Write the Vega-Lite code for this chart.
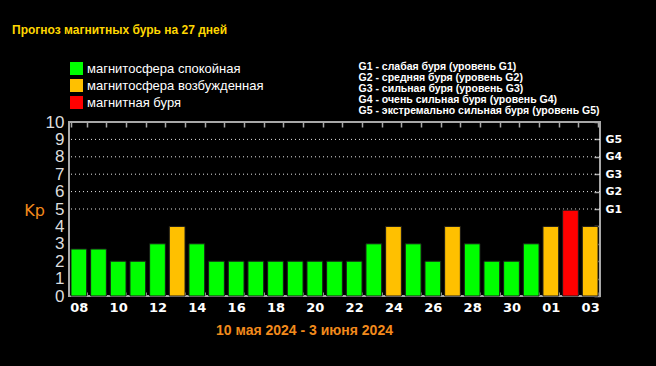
{
  "$schema": "https://vega.github.io/schema/vega-lite/v6.json",
  "width": 531,
  "height": 174,
  "autosize": {"type": "none"},
  "padding": {"left": 69, "top": 122, "right": 56, "bottom": 70},
  "background": "#000000",
  "title": {
    "text": "Прогноз магнитных бурь на 27 дней",
    "anchor": "start",
    "frame": "group",
    "dx": -57,
    "offset": 16,
    "baseline": "alphabetic",
    "font": "Liberation Sans",
    "fontSize": 12,
    "fontWeight": "bold",
    "color": "#ffd700"
  },
  "config": {
    "view": {"stroke": "#a8a8a8", "strokeWidth": 2},
    "font": "Liberation Sans"
  },
  "datasets": {
    "days": [
      {"day": "08", "kp": 2.7, "status": "магнитосфера спокойная"},
      {"day": "09", "kp": 2.7, "status": "магнитосфера спокойная"},
      {"day": "10", "kp": 2, "status": "магнитосфера спокойная"},
      {"day": "11", "kp": 2, "status": "магнитосфера спокойная"},
      {"day": "12", "kp": 3, "status": "магнитосфера спокойная"},
      {"day": "13", "kp": 4, "status": "магнитосфера возбужденная"},
      {"day": "14", "kp": 3, "status": "магнитосфера спокойная"},
      {"day": "15", "kp": 2, "status": "магнитосфера спокойная"},
      {"day": "16", "kp": 2, "status": "магнитосфера спокойная"},
      {"day": "17", "kp": 2, "status": "магнитосфера спокойная"},
      {"day": "18", "kp": 2, "status": "магнитосфера спокойная"},
      {"day": "19", "kp": 2, "status": "магнитосфера спокойная"},
      {"day": "20", "kp": 2, "status": "магнитосфера спокойная"},
      {"day": "21", "kp": 2, "status": "магнитосфера спокойная"},
      {"day": "22", "kp": 2, "status": "магнитосфера спокойная"},
      {"day": "23", "kp": 3, "status": "магнитосфера спокойная"},
      {"day": "24", "kp": 4, "status": "магнитосфера возбужденная"},
      {"day": "25", "kp": 3, "status": "магнитосфера спокойная"},
      {"day": "26", "kp": 2, "status": "магнитосфера спокойная"},
      {"day": "27", "kp": 4, "status": "магнитосфера возбужденная"},
      {"day": "28", "kp": 3, "status": "магнитосфера спокойная"},
      {"day": "29", "kp": 2, "status": "магнитосфера спокойная"},
      {"day": "30", "kp": 2, "status": "магнитосфера спокойная"},
      {"day": "31", "kp": 3, "status": "магнитосфера спокойная"},
      {"day": "01", "kp": 4, "status": "магнитосфера возбужденная"},
      {"day": "02", "kp": 4.93, "status": "магнитная буря"},
      {"day": "03", "kp": 4, "status": "магнитосфера возбужденная"}
    ],
    "levels": [
      {"level": 5, "g": "G1", "desc": "G1 - слабая буря (уровень G1)"},
      {"level": 6, "g": "G2", "desc": "G2 - средняя буря (уровень G2)"},
      {"level": 7, "g": "G3", "desc": "G3 - сильная буря (уровень G3)"},
      {"level": 8, "g": "G4", "desc": "G4 - очень сильная буря (уровень G4)"},
      {"level": 9, "g": "G5", "desc": "G5 - экстремально сильная буря (уровень G5)"}
    ]
  },
  "layer": [
    {
      "data": {"name": "levels"},
      "mark": {"type": "rule", "color": "#ffffff", "strokeDash": [1, 3], "strokeWidth": 1, "opacity": 0.9},
      "encoding": {
        "y": {
          "field": "level", "type": "quantitative",
          "scale": {"domain": [0, 10], "nice": false, "zero": true},
          "axis": {
            "orient": "right",
            "values": [0, 1, 2, 3, 4, 5, 6, 7, 8, 9, 10],
            "labelExpr": "datum.value >= 5 && datum.value <= 9 ? 'G' + (datum.value - 4) : ''",
            "tickSize": -6,
            "tickColor": "#a8a8a8",
            "tickWidth": 1.5,
            "domain": false,
            "grid": false,
            "labelPadding": 11,
            "labelColor": "#ffffff",
            "labelFont": "DejaVu Sans",
            "labelFontSize": 11,
            "labelFontWeight": "bold",
            "title": null
          }
        }
      }
    },
    {
      "data": {"name": "levels"},
      "mark": {"type": "point", "opacity": 0},
      "encoding": {
        "y": {"field": "level", "type": "quantitative", "axis": null},
        "shape": {
          "field": "desc", "type": "nominal",
          "legend": {
            "title": null,
            "orient": "none",
            "legendX": 279,
            "legendY": -60,
            "symbolOpacity": 0,
            "symbolSize": 1,
            "symbolStrokeWidth": 0,
            "labelOffset": 0,
            "rowPadding": 0,
            "labelColor": "#ffffff",
            "labelFont": "Liberation Sans",
            "labelFontSize": 10.5,
            "labelFontWeight": "bold",
            "labelLimit": 400
          }
        }
      }
    },
    {
      "data": {"name": "days"},
      "mark": {"type": "bar", "stroke": "#1a1a1a", "strokeWidth": 1},
      "encoding": {
        "x": {
          "field": "day", "type": "ordinal", "sort": null,
          "scale": {"paddingInner": 0.2, "paddingOuter": 0.1},
          "axis": {
            "orient": "bottom",
            "tickBand": "extent",
            "tickSize": -4,
            "tickColor": "#a8a8a8",
            "domain": false,
            "labelAngle": 0,
            "labelExpr": "indexof(['08','10','12','14','16','18','20','22','24','26','28','30','01','03'], datum.value) >= 0 ? datum.value : ''",
            "labelPadding": 9,
            "labelColor": "#ffffff",
            "labelFont": "DejaVu Sans",
            "labelFontSize": 13,
            "labelFontWeight": "bold",
            "title": "10 мая 2024 - 3 июня 2024",
            "titleColor": "#f28a1c",
            "titleFont": "Liberation Sans",
            "titleFontSize": 14,
            "titleFontWeight": "bold",
            "titleX": 235,
            "titleY": 38,
            "titleAlign": "center",
            "titleBaseline": "alphabetic"
          }
        },
        "y": {
          "field": "kp", "type": "quantitative",
          "axis": {
            "orient": "left",
            "values": [0, 1, 2, 3, 4, 5, 6, 7, 8, 9, 10],
            "ticks": false,
            "domain": false,
            "grid": false,
            "labelPadding": 5,
            "labelColor": "#dddddd",
            "labelFont": "Liberation Sans",
            "labelFontSize": 17,
            "title": "Kp",
            "titleAngle": 0,
            "titleColor": "#f28a1c",
            "titleFont": "DejaVu Sans",
            "titleFontSize": 16,
            "titleFontWeight": "normal",
            "titleX": -35,
            "titleY": 93,
            "titleAlign": "center",
            "titleBaseline": "alphabetic"
          }
        },
        "color": {
          "field": "status", "type": "nominal",
          "scale": {
            "domain": ["магнитосфера спокойная", "магнитосфера возбужденная", "магнитная буря"],
            "range": ["#00ff00", "#ffc000", "#ff0000"]
          },
          "legend": {
            "title": null,
            "orient": "none",
            "legendX": 1,
            "legendY": -60,
            "symbolType": "square",
            "symbolSize": 169,
            "symbolStrokeWidth": 0,
            "symbolOpacity": 1,
            "labelOffset": 4,
            "rowPadding": 3,
            "labelColor": "#ffffff",
            "labelFont": "Liberation Sans",
            "labelFontSize": 13,
            "labelLimit": 400
          }
        }
      }
    },
    {
      "data": {"name": "days"},
      "mark": {"type": "bar", "opacity": 0},
      "encoding": {
        "x": {
          "field": "day", "type": "ordinal", "sort": null,
          "axis": {
            "orient": "top",
            "tickBand": "extent",
            "tickSize": -5,
            "tickColor": "#a8a8a8",
            "tickWidth": 1.5,
            "domain": false,
            "labels": false,
            "title": null
          }
        },
        "y": {"field": "kp", "type": "quantitative", "axis": null}
      }
    }
  ],
  "resolve": {"axis": {"x": "independent", "y": "independent"}, "legend": {"shape": "independent", "color": "independent"}}
}
